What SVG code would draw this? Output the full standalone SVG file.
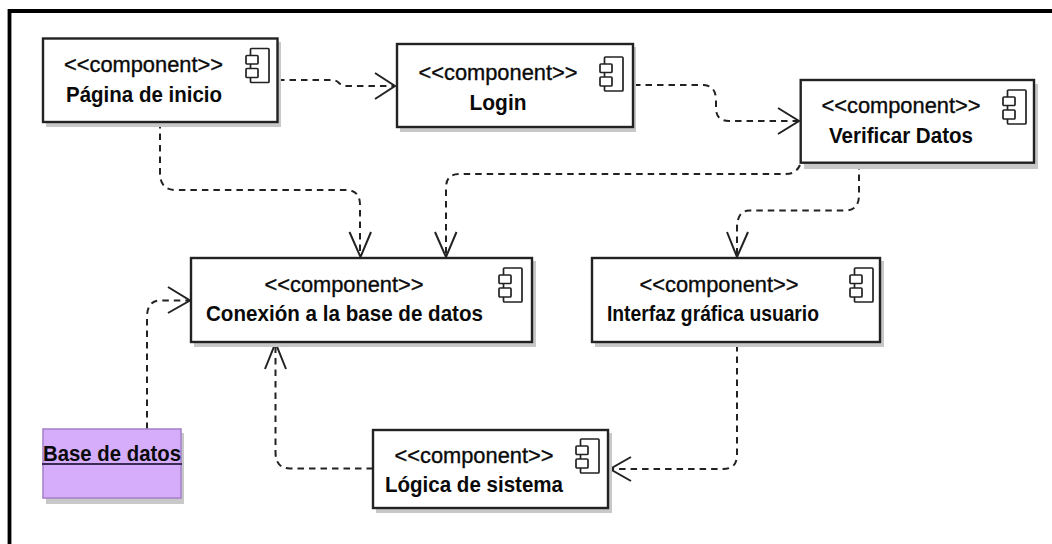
<svg xmlns="http://www.w3.org/2000/svg" width="1052" height="544" viewBox="0 0 1052 544">
<style>
.box{fill:#fff;stroke:#222;stroke-width:2.4}
.shadow{fill:#c8c8c8}
.icon{fill:#fff;stroke:#222;stroke-width:1.7}
text{font-family:"Liberation Sans",Arial,sans-serif;fill:#0a0a0a;text-anchor:middle}
.st{font-size:21.8px;stroke:#0a0a0a;stroke-width:.35px}
.name{font-size:21.5px;font-weight:bold}
.c{fill:none;stroke:#222;stroke-width:2;stroke-dasharray:6.5 5}
.h{fill:none;stroke:#222;stroke-width:2}
</style>
<defs>
<g id="ic"><rect class="icon" x="4.500" y="0" width="18.500" height="34" rx="1"/><rect class="icon" x="0" y="7" width="12" height="8.500" rx="1"/><rect class="icon" x="0" y="20" width="12" height="9" rx="1"/></g>
</defs>
<rect width="1052" height="544" fill="#fff"/>
<path d="M9.500 544V11H1052" fill="none" stroke="#000" stroke-width="3.800"/>
<g id="connectors">
<path class="c" d="M278 80H332Q336 80 339 83Q342 86 346 86H394"/><path class="h" d="M375 73L395 86L375 99"/>
<path class="c" d="M634 85H704Q716 86 716 100V108Q716 121 729 121H798"/><path class="h" d="M778 108L799 121L778 134"/>
<path class="c" d="M160 122V173Q160 190 176 190H346Q360 190 360 205V256"/><path class="h" d="M349.500 232L360.500 257L371 232"/>
<path class="c" d="M800 165Q796 174 786 174H459Q446 174 446 188V256"/><path class="h" d="M435 232L446 257L456.500 232"/>
<path class="c" d="M859 163V195Q859 210.500 845 210.500H749Q737 211 737 228V256"/><path class="h" d="M727 232L737 257L748 232"/>
<path class="c" d="M147 429V317Q147 301 160 300.500H189"/><path class="h" d="M168 287L190 300.500L168 313"/>
<path class="c" d="M737 345V455Q737 469 723 469H611"/><path class="h" d="M631 457L610 469L631 481"/>
<path class="c" d="M373 468.500H290Q275.500 468.500 275.500 452V345"/><path class="h" d="M265 369L275.500 343L286 369"/>
</g>
<g id="pagina-inicio"><rect class="shadow" x="46" y="42" width="235" height="85"/><rect class="box" x="43" y="38.500" width="234.500" height="83.500"/><use href="#ic" x="246" y="48.500"/><text class="st" x="143.500" y="72" textLength="159" lengthAdjust="spacingAndGlyphs">&lt;&lt;component&gt;&gt;</text><text class="name" x="144" y="102" textLength="156" lengthAdjust="spacingAndGlyphs">Página de inicio</text></g>
<g id="login"><rect class="shadow" x="400" y="47" width="236" height="85"/><rect class="box" x="397" y="44" width="236" height="83"/><use href="#ic" x="600" y="57"/><text class="st" x="498" y="80" textLength="159" lengthAdjust="spacingAndGlyphs">&lt;&lt;component&gt;&gt;</text><text class="name" x="498" y="110" textLength="57" lengthAdjust="spacingAndGlyphs">Login</text></g>
<g id="verificar-datos"><rect class="shadow" x="804" y="84" width="234" height="85"/><rect class="box" x="800.700" y="80" width="233.300" height="82.700"/><use href="#ic" x="1003" y="90"/><text class="st" x="901" y="113" textLength="159" lengthAdjust="spacingAndGlyphs">&lt;&lt;component&gt;&gt;</text><text class="name" x="901" y="143" textLength="144" lengthAdjust="spacingAndGlyphs">Verificar Datos</text></g>
<g id="conexion"><rect class="shadow" x="194" y="261" width="342" height="86"/><rect class="box" x="191" y="258" width="341" height="84"/><use href="#ic" x="499" y="268"/><text class="st" x="344" y="292" textLength="159" lengthAdjust="spacingAndGlyphs">&lt;&lt;component&gt;&gt;</text><text class="name" x="344.500" y="321" textLength="277" lengthAdjust="spacingAndGlyphs">Conexión a la base de datos</text></g>
<g id="interfaz"><rect class="shadow" x="595" y="261" width="289" height="86"/><rect class="box" x="592" y="258" width="288" height="84"/><use href="#ic" x="850" y="268"/><text class="st" x="719" y="292" textLength="159" lengthAdjust="spacingAndGlyphs">&lt;&lt;component&gt;&gt;</text><text class="name" x="713" y="321" textLength="212" lengthAdjust="spacingAndGlyphs">Interfaz gráfica usuario</text></g>
<g id="logica"><rect class="shadow" x="376" y="433" width="236" height="80"/><rect class="box" x="373" y="430" width="235" height="78"/><use href="#ic" x="576" y="439"/><text class="st" x="474" y="463" textLength="159" lengthAdjust="spacingAndGlyphs">&lt;&lt;component&gt;&gt;</text><text class="name" x="474" y="492" textLength="178" lengthAdjust="spacingAndGlyphs">Lógica de sistema</text></g>
<g id="base-datos"><rect class="shadow" x="46" y="433" width="138" height="71"/><rect x="43" y="429" width="138" height="69" fill="#d5adfb" stroke="#a884cc" stroke-width="1.600"/><text class="name" x="112" y="460.500" textLength="138" lengthAdjust="spacingAndGlyphs">Base de datos</text><path d="M42 464H182" stroke="#3a2a55" stroke-width="2"/></g>
</svg>
